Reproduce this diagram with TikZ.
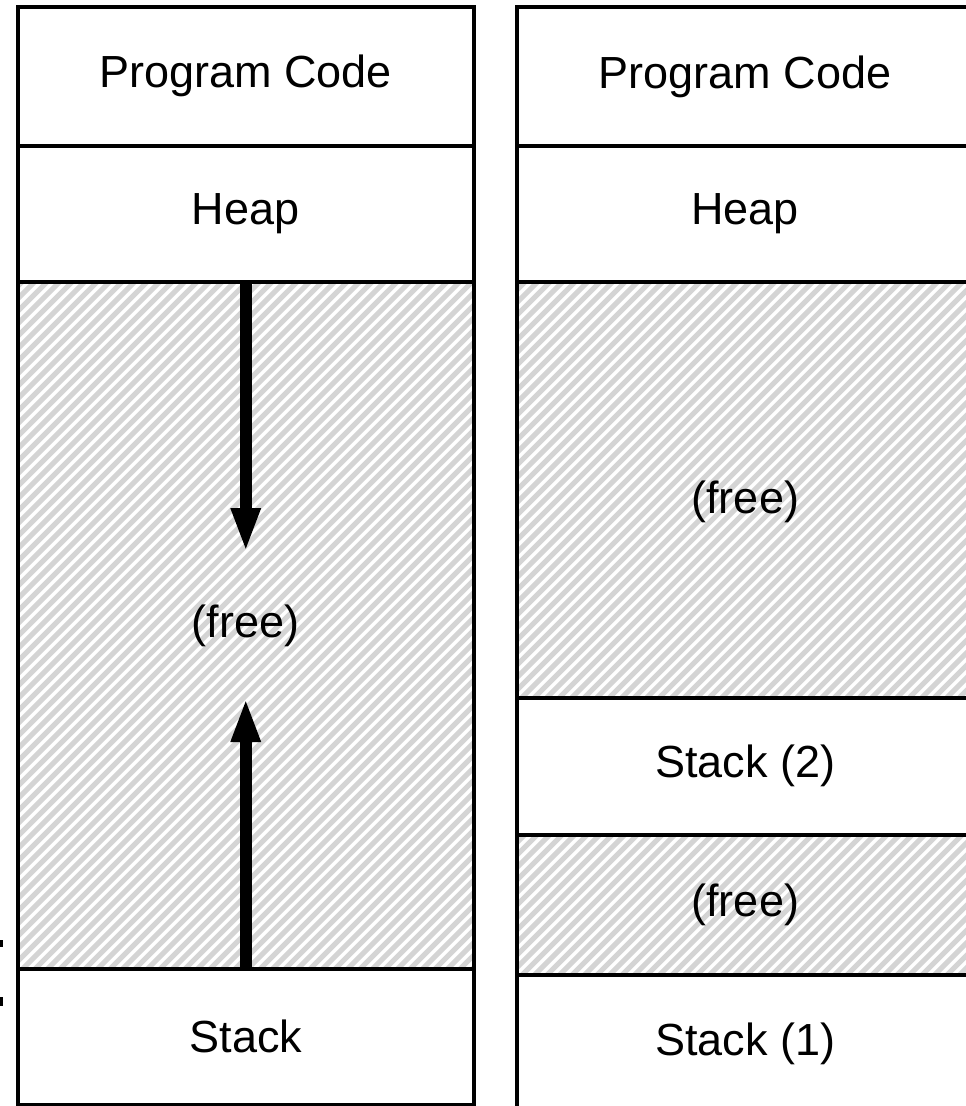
\documentclass[tikz,border=0pt]{standalone}
\usepackage{fontspec}
\setmainfont{Liberation Sans}
\usetikzlibrary{arrows.meta}

\definecolor{stripegray}{RGB}{212,212,212}

\tikzset{
  cell/.style={draw=black, line width=4pt, inner sep=0pt, outer sep=0pt,
    minimum width=456.5pt, anchor=north west,
    font=\fontsize{45}{54}\selectfont},
  hatched/.style={path picture={
      \foreach \k in {-720,-707.5,...,480}{
        \draw[stripegray, line width=5pt]
          ([xshift=\k pt]path picture bounding box.south west) -- ++(1250pt,1250pt);
      }}},
  growth/.style={line width=12pt, -{Triangle[length=44pt,width=27pt]}}
}

\begin{document}
\begin{tikzpicture}[x=1pt,y=-1pt]
  \clip (0,0) rectangle (966,1106);
  \fill[white] (0,0) rectangle (966,1106);

  % one address space: code, heap, free gap, single stack
  \node[cell, minimum height=139.5pt] (codeA) at (17.5,6.5) {Program Code};
  \node[cell, minimum height=136pt] (heapA) at (17.5,146) {Heap};
  \node[cell, hatched, minimum height=687pt] (freeA) at (17.5,282) {(free)};
  \node[cell, minimum height=135.5pt] (stackA) at (17.5,969) {Stack};

  % heap grows down, stack grows up
  \coordinate (heapTip) at (245.75,552);
  \coordinate (stackTip) at (245.75,698);
  \draw[growth] (heapA.south) -- (heapTip);
  \draw[growth] (stackA.north) -- (stackTip);

  % address space with two thread stacks
  \node[cell, minimum height=139pt] (codeB) at (517,7) {Program Code};
  \node[cell, minimum height=136pt] (heapB) at (517,146) {Heap};
  \node[cell, hatched, minimum height=415.5pt, text height=56pt] (freeB1) at (517,282) {(free)};
  \node[cell, minimum height=137pt] (stackB2) at (517,697.5) {Stack (2)};
  \node[cell, hatched, minimum height=140.5pt] (freeB2) at (517,834.5) {(free)};
  \node[cell, minimum height=138pt] (stackB1) at (517,975) {Stack (1)};

  % stray marks at the left edge
  \fill[black] (0,940) rectangle (2.5,947);
  \fill[black] (0,997) rectangle (2.5,1006);
\end{tikzpicture}
\end{document}
